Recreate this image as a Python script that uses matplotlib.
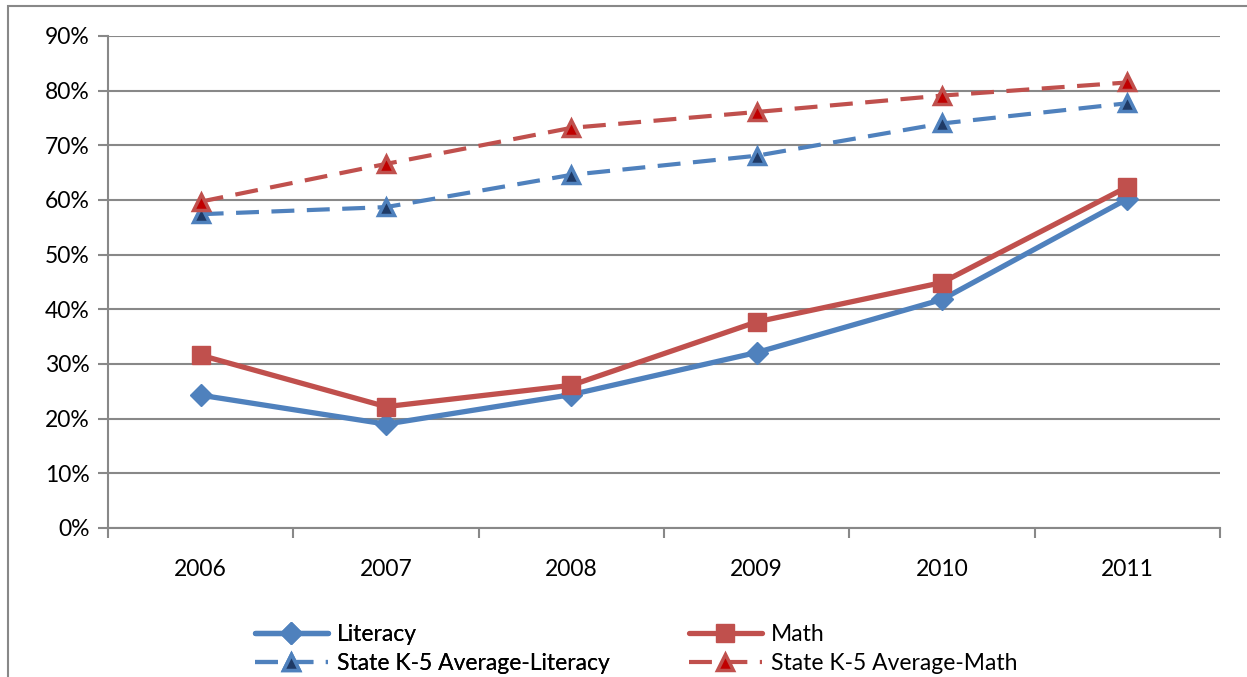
import matplotlib
matplotlib.use("Agg")
import matplotlib.pyplot as plt
from matplotlib.ticker import FuncFormatter, MultipleLocator
from matplotlib.patches import Rectangle

years = ["2006", "2007", "2008", "2009", "2010", "2011"]
literacy = [24.3, 19.0, 24.4, 32.1, 41.8, 60.2]
math_scores = [31.6, 22.2, 26.1, 37.7, 44.9, 62.4]
state_literacy = [57.4, 58.7, 64.6, 68.1, 74.0, 77.7]
state_math = [59.7, 66.6, 73.2, 76.1, 79.1, 81.5]

BLUE = "#4F81BD"
RED = "#C0504D"
NAVY = "#1F3A66"
DARKRED = "#C00000"
GRID = "#888888"

plt.rcParams["font.family"] = ["Lato", "DejaVu Sans"]

fig = plt.figure(figsize=(12.47, 6.77), dpi=100)
ax = fig.add_axes([108 / 1247, 1 - 528 / 677, (1220 - 108) / 1247, (528 - 36) / 677])

x = list(range(len(years)))
dash = (0, (5.5, 3.0))

h_lit, = ax.plot(x, literacy, color=BLUE, lw=3.8, marker="D", ms=11,
                 mfc=BLUE, mec=BLUE, label="Literacy", solid_capstyle="round", zorder=4)
h_math, = ax.plot(x, math_scores, color=RED, lw=3.8, marker="s", ms=13,
                  mfc=RED, mec=RED, label="Math", solid_capstyle="round", zorder=4)
h_slit, = ax.plot(x, state_literacy, color=BLUE, lw=3.0, ls=dash, marker="^", ms=12,
                  mfc=NAVY, mec=BLUE, mew=2.5, label="State K-5 Average-Literacy", zorder=3)
h_smath, = ax.plot(x, state_math, color=RED, lw=3.0, ls=dash, marker="^", ms=12,
                   mfc=DARKRED, mec=RED, mew=2.5, label="State K-5 Average-Math", zorder=3)

ax.set_xlim(-0.5, len(years) - 0.5)
ax.set_ylim(0, 90)
ax.yaxis.set_major_locator(MultipleLocator(10))
ax.yaxis.set_major_formatter(FuncFormatter(lambda v, p: f"{v:.0f}%"))
ax.set_xticks(x)
ax.set_xticklabels(years)
ax.set_xticks([i - 0.5 for i in range(len(years) + 1)], minor=True)

ax.grid(axis="y", color=GRID, lw=1.5, zorder=0)
for side in ["top", "right"]:
    ax.spines[side].set_visible(False)
for side in ["left", "bottom"]:
    ax.spines[side].set_color(GRID)
    ax.spines[side].set_linewidth(1.5)

ax.tick_params(axis="y", length=7, width=1.5, color=GRID, labelsize=16.5, pad=6)
ax.tick_params(axis="x", which="major", length=0, labelsize=16.5, pad=22)
ax.tick_params(axis="x", which="minor", length=7, width=1.5, color=GRID)

# outer chart frame
fig.patches.append(Rectangle((8 / 1247, -0.05), 1.2, 1 - 6 / 677 + 0.05,
                             transform=fig.transFigure, fill=False,
                             ec=GRID, lw=1.5))

legend_kw = dict(loc="lower left", frameon=False, fontsize=16.5, handlelength=3.2,
                 labelspacing=0.38, handletextpad=0.4, borderaxespad=0.0,
                 borderpad=0.2)
leg1 = fig.legend([h_lit, h_slit], [h_lit.get_label(), h_slit.get_label()],
                  bbox_to_anchor=(250 / 1247, -0.003), **legend_kw)
fig.add_artist(leg1)
fig.legend([h_math, h_smath], [h_math.get_label(), h_smath.get_label()],
           bbox_to_anchor=(684 / 1247, -0.003), **legend_kw)

fig.savefig("out.png", dpi=100)
